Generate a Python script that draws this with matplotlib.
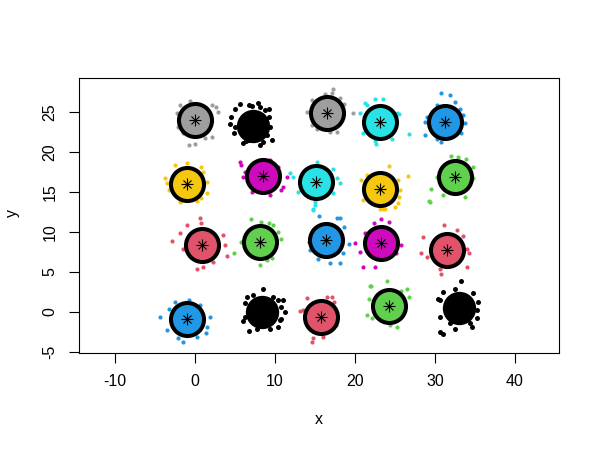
import matplotlib
matplotlib.use("Agg")
import matplotlib.pyplot as plt

# ---- cluster centres (data units) ----
cluster_names = ["gray1", "black1", "gray2", "cyan1", "blue1",
                 "yellow1", "magenta1", "cyan2", "yellow2", "green1",
                 "red1", "green2", "blue2", "magenta2", "red2",
                 "blue3", "black2", "red3", "green3", "black3"]
center_x = [0.0, 7.2, 16.5, 23.1, 31.25,
            -0.95, 8.55, 15.1, 23.1, 32.5,
            0.85, 8.1, 16.4, 23.3, 31.5,
            -1.05, 8.4, 15.8, 24.25, 33.0]
center_y = [24.0, 23.2, 24.8, 23.75, 23.75,
            16.0, 16.95, 16.25, 15.4, 16.8,
            8.35, 8.75, 8.95, 8.6, 7.7,
            -0.95, 0.0, -0.7, 0.7, 0.45]
cluster_color = ["#9E9E9E", "#000000", "#9E9E9E", "#28E2E5", "#2297E6",
                 "#F5C710", "#CD0BBC", "#28E2E5", "#F5C710", "#61D04F",
                 "#DF536B", "#61D04F", "#2297E6", "#CD0BBC", "#DF536B",
                 "#2297E6", "#000000", "#DF536B", "#61D04F", "#000000"]
has_centroid = [True, False, True, True, True,
                True, True, True, True, True,
                True, True, True, True, True,
                True, False, True, True, False]

# ---- scattered points around each cluster ----
pts_x = {
    "gray1": [-1.9, -0.6, 2.1, 2.9, -2.3, -2.1, -0.8, 0.0, 1.25, 2.1, -1.5, 2.6],
    "black1": [5.6, 7.9, 7.1, 4.5, 4.4, 6.0, 8.1, 9.6, 8.96, 9.3, 5.0, 6.4,
               6.7, 8.1, 5.0, 4.9, 6.7, 8.5, 9.4, 9.3, 8.75],
    "gray2": [17.3, 17.1, 16.3, 14.6, 14.0, 18.1, 19.8, 16.9, 17.7, 14.6, 15.2, 18.6],
    "cyan1": [22.5, 23.5, 21.25, 21.5, 25.5, 26.8, 22.6, 22.5, 20.6, 21.0, 25.3, 24.6],
    "blue1": [30.75, 31.9, 32.5, 33.1, 33.5, 33.75, 33.3, 30.8, 30.2, 28.75, 28.75, 28.95, 30.2],
    "yellow1": [-2.5, -1.0, 0.8, 1.0, 1.45, 1.45, 0.8, -1.9, -3.5, -3.3, -3.75, 0.3],
    "magenta1": [5.6, 5.8, 8.1, 9.4, 6.25, 6.0, 7.1, 9.4, 10.8, 11.0, 11.5, 10.4],
    "cyan2": [11.9, 12.3, 15.2, 17.3, 17.7, 18.1, 17.3, 15.0, 14.8, 12.9, 15.0, 14.8],
    "yellow2": [24.25, 26.6, 25.4, 25.6, 25.5, 25.0, 23.5, 21.0, 20.8, 21.5, 23.1, 23.75, 25.4],
    "green1": [31.95, 32.9, 33.9, 34.8, 34.8, 33.75, 31.0, 29.5, 29.3, 30.2, 29.4],
    "red1": [0.6, 0.8, -1.0, -1.9, -2.9, 3.5, 3.75, 3.95, 2.3, 1.0, 0.2, -1.5],
    "green2": [6.95, 8.3, 9.2, 9.8, 10.4, 10.8, 5.8, 9.6, 8.95, 8.1, 4.9],
    "blue2": [15.5, 17.7, 18.1, 18.6, 19.2, 18.5, 18.1, 16.9, 15.4, 14.4, 14.2, 14.8],
    "magenta2": [23.3, 24.3, 22.4, 21.25, 25.8, 20.6, 21.0, 22.5, 25.1, 20.0],
    "red2": [31.1, 32.8, 33.5, 28.5, 28.25, 28.95, 30.6, 30.7, 34.0, 34.2, 34.0],
    "blue3": [-4.4, -3.3, -2.5, -0.8, 0.6, 1.9, 1.45, 1.4, 0.2, -1.5, -2.1, -3.5],
    "black2": [8.5, 6.5, 10.4, 11.0, 11.25, 6.7, 10.4, 6.0, 10.8,
               7.3, 9.8, 10.8, 10.6, 9.4, 7.7, 6.25, 6.25],
    "red3": [14.0, 16.5, 17.1, 17.4, 13.5, 13.1, 14.8, 14.6, 16.0, 17.6],
    "green3": [24.0, 22.0, 25.8, 26.5, 26.7, 21.7, 21.5, 22.1, 24.4, 25.3, 21.9],
    "black3": [33.3, 30.6, 30.95, 34.6, 32.5, 35.4, 30.4, 35.2,
               31.0, 32.5, 34.8, 35.3, 34.4, 30.6, 30.6, 31.9],
}
pts_y = {
    "gray1": [25.8, 26.3, 25.8, 25.0, 24.8, 23.1, 20.8, 21.0, 21.7, 21.9, 22.3, 25.6],
    "black1": [26.0, 26.1, 25.7, 24.4, 23.5, 21.1, 20.8, 21.5, 22.1, 25.4, 25.4, 21.4,
               25.8, 25.6, 23.1, 22.3, 21.5, 21.25, 23.1, 24.4, 25.2],
    "gray2": [27.9, 27.3, 27.2, 26.5, 25.0, 26.7, 24.9, 22.5, 22.5, 23.3, 22.9, 26.0],
    "cyan1": [26.55, 26.55, 26.05, 25.8, 24.7, 22.2, 21.0, 21.4, 24.8, 22.3, 24.9, 21.6],
    "blue1": [27.3, 27.1, 26.25, 25.4, 24.6, 23.55, 22.4, 21.25, 21.55, 22.1, 23.75, 24.4, 25.8],
    "yellow1": [18.3, 18.55, 18.05, 17.5, 16.25, 14.8, 14.2, 13.75, 16.05, 15.2, 16.7, 13.9],
    "magenta1": [18.75, 18.3, 18.95, 18.95, 17.5, 16.9, 15.0, 14.6, 15.2, 15.6, 16.9, 18.1],
    "cyan2": [17.3, 16.9, 18.75, 17.9, 16.7, 16.05, 14.8, 13.3, 12.9, 15.0, 13.75, 12.7],
    "yellow2": [18.2, 17.0, 16.45, 15.2, 14.4, 13.1, 12.9, 13.95, 16.45, 17.1, 12.8, 12.8, 13.6],
    "green1": [19.45, 19.3, 19.05, 18.05, 16.7, 14.4, 14.6, 15.4, 13.9, 16.9, 13.75],
    "red1": [11.7, 11.1, 10.8, 9.9, 8.9, 9.6, 8.4, 7.0, 6.25, 5.6, 5.3, 7.9],
    "green2": [11.55, 11.25, 11.05, 10.85, 10.0, 9.1, 8.75, 6.7, 6.45, 5.85, 7.4],
    "blue2": [12.0, 11.7, 11.7, 10.6, 8.5, 7.3, 6.1, 6.1, 6.55, 7.7, 8.75, 10.2],
    "magenta2": [11.55, 11.25, 11.05, 9.9, 8.3, 7.5, 5.6, 5.55, 7.3, 8.55],
    "red2": [10.85, 10.2, 9.45, 9.3, 7.4, 6.9, 5.4, 4.7, 5.6, 7.3, 7.9],
    "blue3": [-0.6, 0.4, 1.25, 1.45, 0.85, -0.7, -1.9, -2.7, -3.1, -3.75, -3.3, -2.3],
    "black2": [2.8, 1.9, 1.45, 1.45, 0.0, -2.4, -1.9, -1.2, -0.9,
               2.1, 1.9, 0.6, -1.0, -2.1, -2.1, -0.6, 1.05],
    "red3": [1.7, 1.8, 1.8, 1.25, 0.2, 0.1, -3.25, -3.75, -3.1, -1.6],
    "green3": [3.9, 3.2, 2.6, 2.9, 1.8, 1.55, -0.4, -0.8, -1.65, -1.95, 3.2],
    "black3": [3.9, -2.5, -2.8, -1.9, -2.1, 1.25, 1.6, -0.8,
               2.5, 2.9, 2.3, 0.2, -1.45, -0.6, 1.45, -1.45],
}

x_ticks = [-10, 0, 10, 20, 30, 40]
y_ticks = [-5, 0, 5, 10, 15, 20, 25]

plt.rcParams["font.family"] = ["Liberation Sans", "DejaVu Sans"]

fig = plt.figure(figsize=(6, 4.5), dpi=100)
ax = fig.add_axes([79 / 600, 1 - 352.5 / 450, (559 - 79) / 600, (352.5 - 78.3) / 450])

# scattered points
for name, col, hc in zip(cluster_names, cluster_color, has_centroid):
    ax.plot(pts_x[name], pts_y[name], linestyle="none", marker="o",
            markersize=3.0 if hc else 3.6, color=col, markeredgewidth=0, zorder=2)

# dense cores
for cx, cy, col, hc in zip(center_x, center_y, cluster_color, has_centroid):
    ax.plot([cx], [cy], linestyle="none", marker="o",
            markersize=24.5 if hc else 24.0, color=col,
            markeredgewidth=0, zorder=3)

# centroid rings and stars
for cx, cy, hc in zip(center_x, center_y, has_centroid):
    if not hc:
        continue
    ax.plot([cx], [cy], linestyle="none", marker="o", markersize=23.8,
            markerfacecolor="none", markeredgecolor="black",
            markeredgewidth=2.9, zorder=4)
    ax.plot([cx], [cy], linestyle="none", marker="+", markersize=8,
            color="black", markeredgewidth=0.8, zorder=5)
    ax.plot([cx], [cy], linestyle="none", marker="x", markersize=6,
            color="black", markeredgewidth=0.8, zorder=5)

ax.set_xlim(-14.5, 45.5)
ax.set_ylim(-5.1, 29.2)
ax.set_xticks(x_ticks)
ax.set_yticks(y_ticks)
ax.set_xticklabels([str(v) for v in x_ticks], fontsize=11.5)
ax.set_yticklabels([str(v) for v in y_ticks], fontsize=11.5, rotation=90, va="center")
ax.tick_params(axis="both", direction="out", length=7.5, width=0.8, color="black")
ax.tick_params(axis="x", pad=8)
ax.tick_params(axis="y", pad=8)
for sp in ax.spines.values():
    sp.set_linewidth(0.8)
    sp.set_color("black")

fig.text(319 / 600, 1 - 420 / 450, "x", ha="center", va="center", fontsize=11.5)
fig.text(12 / 600, 1 - 213 / 450, "y", ha="center", va="center", fontsize=11.5, rotation=90)

fig.savefig("out.png", dpi=100)
